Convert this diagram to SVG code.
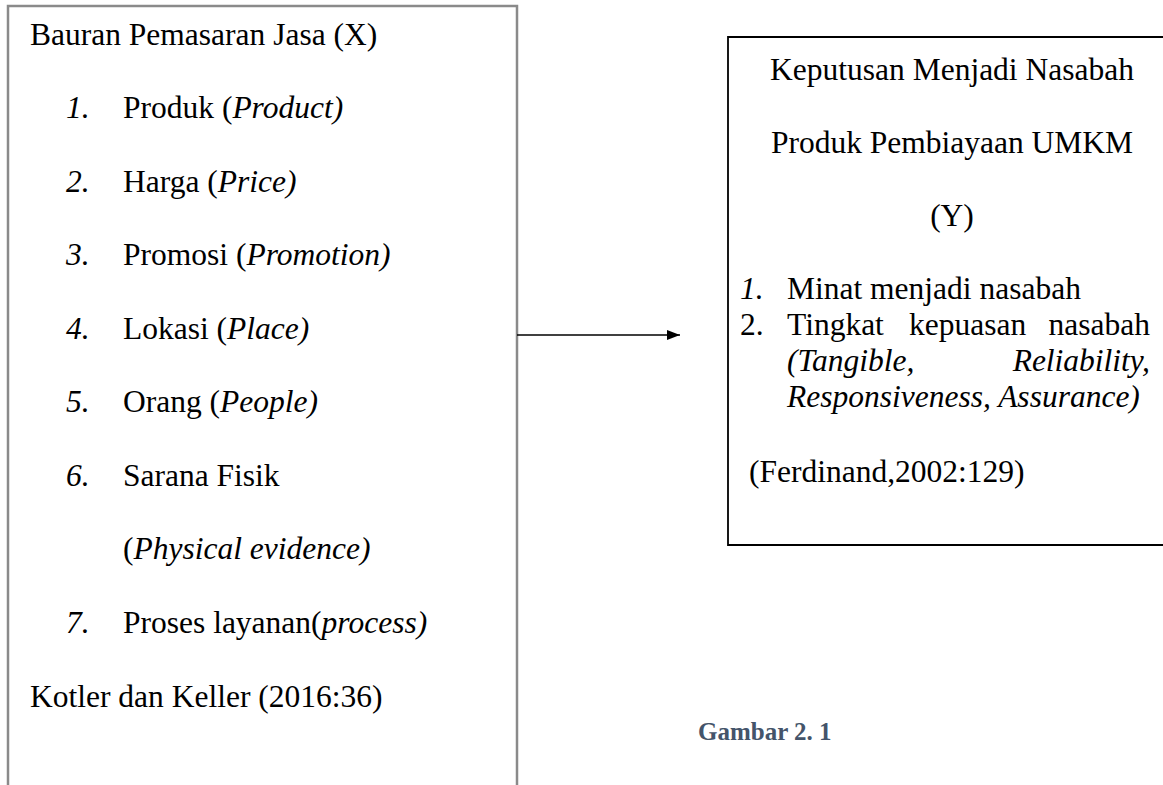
<svg xmlns="http://www.w3.org/2000/svg" width="1163" height="785" viewBox="0 0 1163 785">
<style>
text{font-family:"Liberation Serif","Times New Roman",serif;font-size:31.5px;fill:#000}
.i{font-style:italic}
.cap{font-weight:bold;font-size:25px;fill:#44546A}
</style>
<defs>
<marker id="ah" markerWidth="13" markerHeight="10" refX="13" refY="5" orient="auto" markerUnits="userSpaceOnUse">
<path d="M0,0 L13,5 L0,10 Z" fill="#000"/>
</marker>
</defs>
<rect width="1163" height="785" fill="#fff"/>
<g id="node-x">
<path d="M8,800 V6 H517 V800" fill="none" stroke="#8a8a8a" stroke-width="2.5"/>
<text x="30" y="45">Bauran Pemasaran Jasa (X)</text>
<text x="66" y="118"><tspan class="i">1.</tspan></text><text x="123" y="118">Produk (<tspan class="i">Product)</tspan></text>
<text x="66" y="192"><tspan class="i">2.</tspan></text><text x="123" y="192">Harga (<tspan class="i">Price)</tspan></text>
<text x="66" y="265"><tspan class="i">3.</tspan></text><text x="123" y="265">Promosi (<tspan class="i">Promotion)</tspan></text>
<text x="66" y="339"><tspan class="i">4.</tspan></text><text x="123" y="339">Lokasi (<tspan class="i">Place)</tspan></text>
<text x="66" y="412"><tspan class="i">5.</tspan></text><text x="123" y="412">Orang (<tspan class="i">People)</tspan></text>
<text x="66" y="486"><tspan class="i">6.</tspan></text><text x="123" y="486">Sarana Fisik</text>
<text x="123" y="559">(<tspan class="i">Physical evidence)</tspan></text>
<text x="66" y="633"><tspan class="i">7.</tspan></text><text x="123" y="633">Proses layanan(<tspan class="i">process)</tspan></text>
<text x="30" y="707">Kotler dan Keller (2016:36)</text>
</g>
<g id="node-y">
<path d="M1170,37 H728 V545 H1170" fill="none" stroke="#000" stroke-width="1.8"/>
<text x="952" y="80" text-anchor="middle">Keputusan Menjadi Nasabah</text>
<text x="952" y="153" text-anchor="middle">Produk Pembiayaan UMKM</text>
<text x="952" y="226" text-anchor="middle">(Y)</text>
<text x="740" y="299" class="i">1.</text><text x="787" y="299">Minat menjadi nasabah</text>
<text x="740" y="335">2.</text><text x="787" y="335">Tingkat</text><text x="909" y="335">kepuasan</text><text x="1150" y="335" text-anchor="end">nasabah</text>
<text x="787" y="371" class="i">(Tangible,</text><text x="1150" y="371" text-anchor="end" class="i">Reliability,</text>
<text x="787" y="407" class="i">Responsiveness, Assurance)</text>
<text x="749" y="482">(Ferdinand,2002:129)</text>
</g>
<g id="caption">
<text x="698" y="740" class="cap">Gambar 2. 1</text>
</g>
<g id="connectors">
<line x1="517" y1="335" x2="680" y2="335" stroke="#000" stroke-width="1.5" marker-end="url(#ah)"/>
</g>
</svg>
